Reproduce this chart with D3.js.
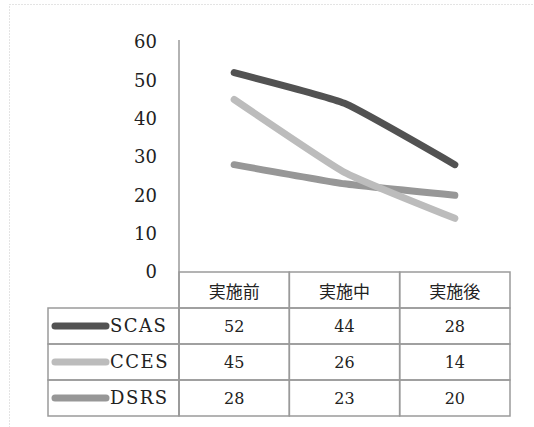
<!DOCTYPE html>
<html>
<head>
<meta charset="utf-8">
<script src="https://cdn.jsdelivr.net/npm/d3@7"></script>
<style>
  body { margin: 0; background: #fff; }
  svg { display: block; }
</style>
</head>
<body>
<svg id="chart" width="534" height="427"></svg>
<script>
// data
const categories = ['実施前', '実施中', '実施後'];
const seriesNames = ['SCAS', 'CCES', 'DSRS'];
const scasValues = [52, 44, 28];
const ccesValues = [45, 26, 14];
const dsrsValues = [28, 23, 20];
const yTicks = [0, 10, 20, 30, 40, 50, 60];

const seriesValues = [scasValues, ccesValues, dsrsValues];
const seriesColors = ['#525252', '#bcbcbc', '#979797'];

const serif = '"DejaVu Serif", serif';
const svg = d3.select('#chart');

// outer dotted frame
svg.append('rect')
  .attr('x', 9.5).attr('y', 4.5)
  .attr('width', 560).attr('height', 460)
  .attr('fill', 'none')
  .attr('stroke', '#c8c8c8')
  .attr('stroke-dasharray', '1,2');

const plotLeft = 179, plotRight = 510;
const plotTop = 42, plotBottom = 272;
const rowH = 36;
const legendLeft = 48;

const xScale = d3.scaleBand()
  .domain(categories)
  .range([plotLeft, plotRight]);

const yScale = d3.scaleLinear()
  .domain([0, 60])
  .range([plotBottom, plotTop]);

// y axis labels
svg.append('g')
  .selectAll('text')
  .data(yTicks)
  .enter()
  .append('text')
  .attr('x', 157)
  .attr('y', d => yScale(d))
  .attr('dy', '0.35em')
  .attr('text-anchor', 'end')
  .attr('font-family', serif)
  .attr('font-size', 18)
  .attr('fill', '#222')
  .text(d => d);

// lightly smoothed lines
const line = d3.line()
  .x((d, i) => xScale(categories[i]) + xScale.bandwidth() / 2)
  .y(d => yScale(d))
  .curve(d3.curveCardinal.tension(0.6));

// draw in order so SCAS on top
[2, 1, 0].forEach(k => {
  svg.append('path')
    .datum(seriesValues[k])
    .attr('d', line)
    .attr('fill', 'none')
    .attr('stroke', seriesColors[k])
    .attr('stroke-width', 7)
    .attr('stroke-linecap', 'round')
    .attr('stroke-linejoin', 'round');
});

// table
const gridColor = '#9a9a9a';
const tableBottom = plotBottom + rowH + rowH * seriesNames.length;
const t = svg.append('g');

// header row
categories.forEach(c => {
  t.append('rect')
    .attr('x', xScale(c)).attr('y', plotBottom)
    .attr('width', xScale.bandwidth()).attr('height', rowH)
    .attr('fill', 'none').attr('stroke', gridColor).attr('stroke-width', 1.5);
  t.append('text')
    .attr('x', xScale(c) + xScale.bandwidth() / 2)
    .attr('y', plotBottom + rowH / 2 + 2)
    .attr('dy', '0.35em')
    .attr('text-anchor', 'middle')
    .attr('font-family', '"Noto Sans CJK JP", sans-serif')
    .attr('font-size', 17)
    .attr('fill', '#222')
    .text(c);
});

// data rows
seriesNames.forEach((name, k) => {
  const y0 = plotBottom + rowH * (k + 1);
  t.append('rect')
    .attr('x', legendLeft).attr('y', y0)
    .attr('width', plotLeft - legendLeft).attr('height', rowH)
    .attr('fill', 'none').attr('stroke', gridColor).attr('stroke-width', 1.5);
  t.append('line')
    .attr('x1', legendLeft + 7).attr('x2', legendLeft + 58)
    .attr('y1', y0 + rowH / 2).attr('y2', y0 + rowH / 2)
    .attr('stroke', seriesColors[k])
    .attr('stroke-width', 7)
    .attr('stroke-linecap', 'round');
  t.append('text')
    .attr('x', legendLeft + 62)
    .attr('y', y0 + rowH / 2)
    .attr('dy', '0.35em')
    .attr('font-family', serif)
    .attr('font-size', 18)
    .attr('letter-spacing', 1.5)
    .attr('fill', '#222')
    .text(name);
  categories.forEach((c, i) => {
    t.append('rect')
      .attr('x', xScale(c)).attr('y', y0)
      .attr('width', xScale.bandwidth()).attr('height', rowH)
      .attr('fill', 'none').attr('stroke', gridColor).attr('stroke-width', 1.5);
    t.append('text')
      .attr('x', xScale(c) + xScale.bandwidth() / 2)
      .attr('y', y0 + rowH / 2)
      .attr('dy', '0.35em')
      .attr('text-anchor', 'middle')
      .attr('font-family', serif)
      .attr('font-size', 16)
      .attr('fill', '#222')
      .text(seriesValues[k][i]);
  });
});

// y axis line
svg.append('line')
  .attr('x1', plotLeft).attr('x2', plotLeft)
  .attr('y1', plotTop - 2).attr('y2', tableBottom)
  .attr('stroke', gridColor).attr('stroke-width', 1.5);
</script>
</body>
</html>
